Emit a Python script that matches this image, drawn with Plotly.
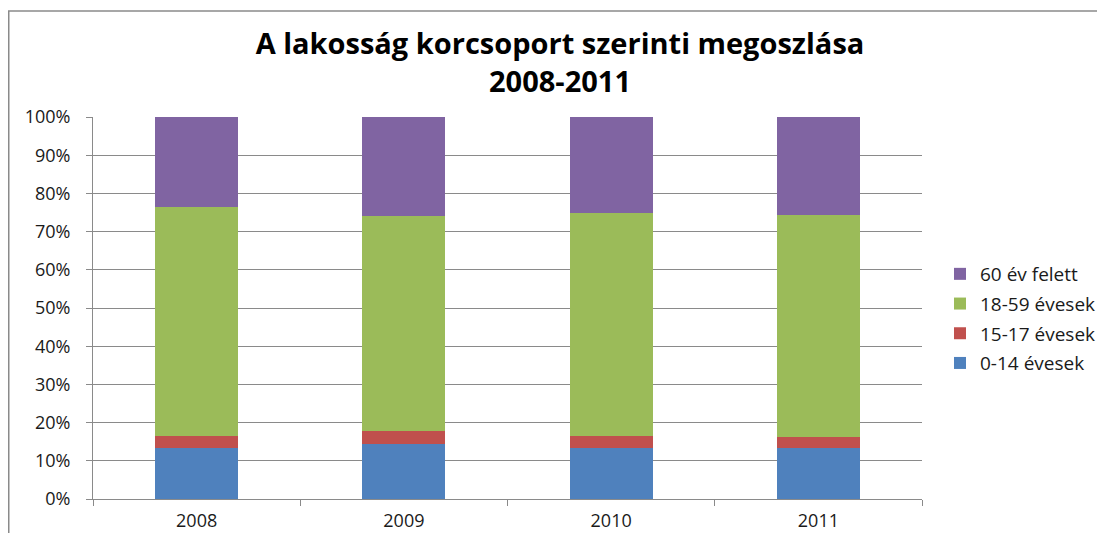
import plotly.graph_objects as go

years = ["2008", "2009", "2010", "2011"]
series_names = ["0-14 évesek", "15-17 évesek", "18-59 évesek", "60 év felett"]
v_0_14 = [13.4, 14.4, 13.4, 13.4]
v_15_17 = [3.2, 3.4, 3.0, 2.9]
v_18_59 = [59.8, 56.2, 58.5, 58.1]
v_60 = [23.6, 26.0, 25.1, 25.6]
colors = ["#4F81BD", "#C0504D", "#9BBB59", "#8064A2"]
y_ticks = [0, 10, 20, 30, 40, 50, 60, 70, 80, 90, 100]
y_tick_labels = [f"{t}%" for t in y_ticks]
title_line1 = "A lakosság korcsoport szerinti megoszlása"
title_line2 = "2008-2011"

fig = go.Figure()
for i, (name, vals) in enumerate(zip(series_names, [v_0_14, v_15_17, v_18_59, v_60])):
    fig.add_trace(go.Bar(x=years, y=vals, name=name, marker_color=colors[i],
                         marker_line_width=0, legendgroup=name,
                         legendrank=10 - i))

# page body has an 8px margin; work in figure pixels
W, H = 1097, 525
L, R, T, B = 85, 183, 109, 34
pw, ph = W - L - R, H - T - B

def px(x):
    return (x - L) / pw

def py(y):
    return (H - B - y) / ph

fig.update_layout(
    width=W, height=H,
    margin=dict(l=L, r=R, t=T, b=B, autoexpand=False),
    barmode="stack", bargap=0.6,
    plot_bgcolor="white", paper_bgcolor="white",
    font=dict(family="Open Sans, Lato, sans-serif", size=18, color="#1a1a1a"),
    title=dict(text="<b>" + title_line1 + "<br>" + title_line2 + "</b>",
               x=px(552), xanchor="center", xref="paper", y=1 - 46 / H, yanchor="middle",
               font=dict(size=29, color="#000000")),
    legend=dict(x=px(932), xanchor="left", y=py(247), yanchor="top",
                traceorder="grouped", tracegroupgap=2,
                font=dict(size=19), bgcolor="rgba(0,0,0,0)"),
    xaxis=dict(showgrid=False, showline=True, linecolor="#8a8a8a", linewidth=1,
               ticks="outside", tickson="boundaries", ticklen=6, tickcolor="#8a8a8a",
               ticklabelstandoff=5, tickfont=dict(size=18), automargin=False),
    yaxis=dict(range=[0, 100], tickvals=y_ticks, ticktext=y_tick_labels,
               showgrid=True, gridcolor="#8a8a8a", gridwidth=1,
               showline=True, linecolor="#8a8a8a", linewidth=1,
               ticks="outside", ticklen=6, tickcolor="#8a8a8a",
               ticklabelstandoff=12, tickfont=dict(size=18), zeroline=False,
               automargin=False),
    shapes=[dict(type="rect", xref="paper", yref="paper",
                 x0=px(0.75), x1=px(1120), y0=py(560), y1=py(3),
                 line=dict(color="#8a8a8a", width=1.5), fillcolor="rgba(0,0,0,0)",
                 layer="below")],
)

fig.write_html("out.html")
